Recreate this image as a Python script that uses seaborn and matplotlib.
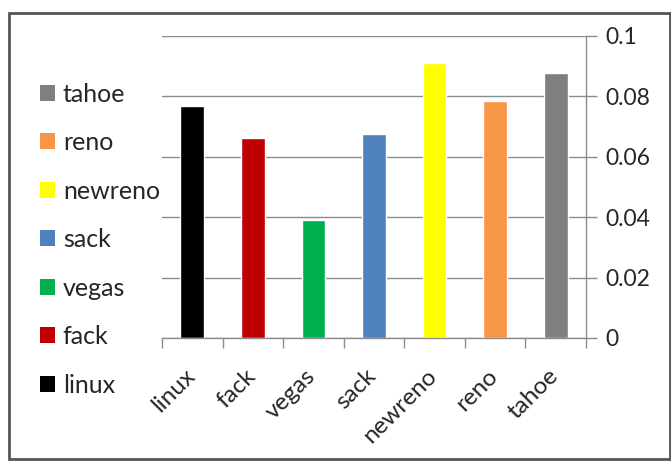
import matplotlib
matplotlib.use("Agg")
import matplotlib.pyplot as plt
import matplotlib.transforms as mtransforms
from matplotlib.patches import Patch, Rectangle
import seaborn as sns
import pandas as pd

# TCP variants and their measured values
variants = ["linux", "fack", "vegas", "sack", "newreno", "reno", "tahoe"]
values = [0.0766, 0.0661, 0.0389, 0.0676, 0.0910, 0.0783, 0.0876]
colors = ["#000000", "#C00000", "#00B050", "#4F81BD", "#FFFF00", "#F79646", "#7F7F7F"]
yticks = [0, 0.02, 0.04, 0.06, 0.08, 0.1]
ytick_labels = ["0", "0.02", "0.04", "0.06", "0.08", "0.1"]

sns.set_theme(style="white")
plt.rcParams["font.family"] = ["Lato", "DejaVu Sans"]

df = pd.DataFrame({"variant": variants, "value": values})

fig = plt.figure(figsize=(6.71, 4.62), dpi=100)
ax = fig.add_axes([0.2414, 0.2684, 0.6319, 0.6543])

sns.barplot(data=df, x="variant", y="value", hue="variant",
            palette=dict(zip(variants, colors)), order=variants,
            width=0.39, saturation=1, legend=False, ax=ax)

grid_c = "#8C8C8C"
text_c = "#262626"

ax.set_ylim(0, 0.1)
ax.set_xlim(-0.5, len(variants) - 0.5)
ax.set_yticks(yticks)
ax.set_yticklabels(ytick_labels, fontsize=16.5, color=text_c)
ax.yaxis.tick_right()
ax.tick_params(axis="y", which="major", direction="out", length=8,
               width=1, color=grid_c, pad=6, right=True, left=False)
ax.grid(axis="y", color=grid_c, linewidth=1)
ax.set_axisbelow(True)

# category boundary ticks on the bottom axis
ax.set_xticks([i - 0.5 for i in range(len(variants) + 1)], minor=True)
ax.tick_params(axis="x", which="minor", direction="out", length=7,
               width=1, color=grid_c, bottom=True)
ax.tick_params(axis="x", which="major", length=0, pad=25)
ax.set_xticks(range(len(variants)))
ax.set_xticklabels(variants, rotation=45, ha="right", va="center",
                   rotation_mode="anchor", fontsize=17.5, color=text_c)
shift = mtransforms.ScaledTranslation(-1 / 100, 0, fig.dpi_scale_trans)
for lbl in ax.get_xticklabels():
    lbl.set_transform(lbl.get_transform() + shift)
ax.set_xlabel("")
ax.set_ylabel("")

for side in ["top", "left"]:
    ax.spines[side].set_visible(False)
ax.spines["right"].set_color(grid_c)
ax.spines["bottom"].set_color(grid_c)
ax.spines["right"].set_linewidth(1)
ax.spines["bottom"].set_linewidth(1)

# legend on the left, listed from last to first
handles = [Patch(facecolor=c, edgecolor="none", label=v)
           for v, c in zip(variants, colors)][::-1]
fig.legend(handles=handles, loc="upper left", bbox_to_anchor=(0.060, 0.821),
           frameon=False, fontsize=18, handlelength=0.6, handleheight=0.6,
           handletextpad=0.3, labelspacing=1.02, labelcolor=text_c,
           borderpad=0, borderaxespad=0)

# outer chart border
fig.patches.append(Rectangle((0.0134, 0.0065), 0.985, 0.9655, transform=fig.transFigure,
                             fill=False, edgecolor="#555555", linewidth=2))

fig.savefig("out.png", dpi=100)
